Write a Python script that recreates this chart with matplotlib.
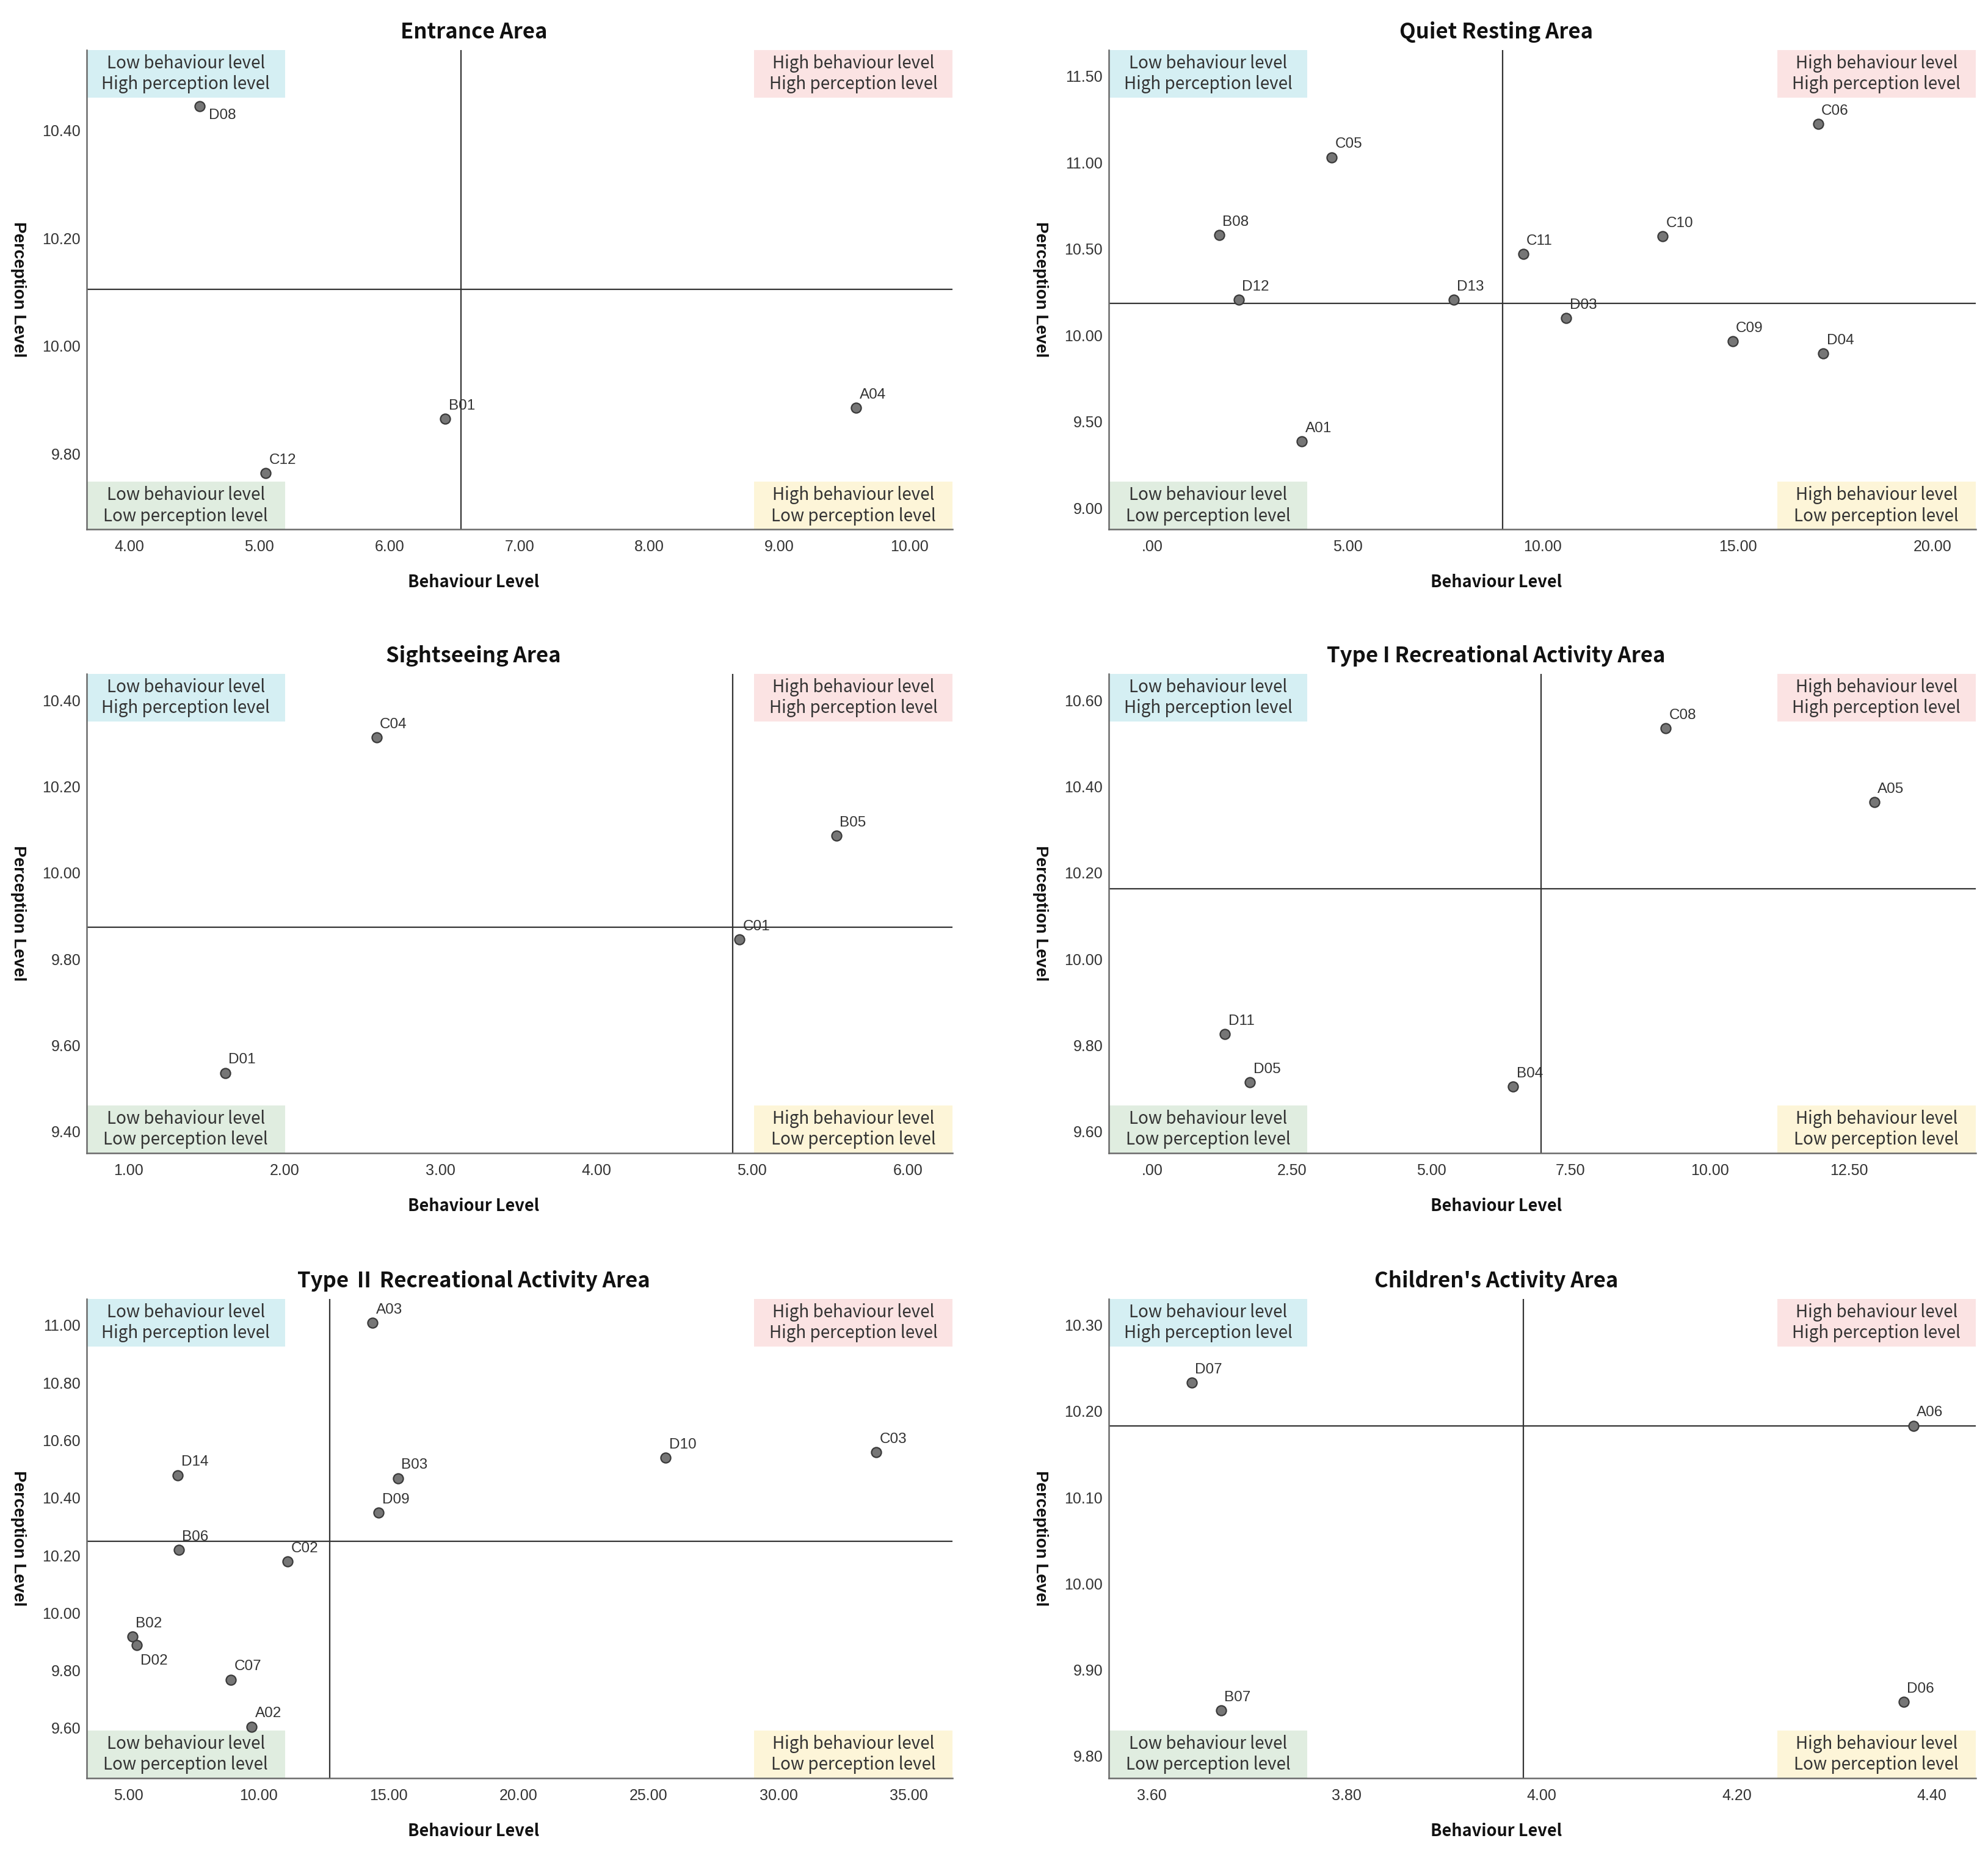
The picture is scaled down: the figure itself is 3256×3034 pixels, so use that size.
import matplotlib
matplotlib.use("Agg")
import matplotlib.pyplot as plt
from matplotlib.patches import Rectangle
from matplotlib.ticker import MultipleLocator, FuncFormatter

# ---------------- data ----------------
entrance_names = ["D08", "B01", "C12", "A04"]
entrance_behaviour = [4.54, 6.43, 5.05, 9.59]
entrance_perception = [10.445, 9.865, 9.764, 9.885]
entrance_mean = (6.55, 10.105)

resting_names = ["C06", "C05", "B08", "C10", "C11", "D12", "D13", "D03", "C09", "D04", "A01"]
resting_behaviour = [17.06, 4.60, 1.71, 13.08, 9.50, 2.21, 7.72, 10.61, 14.87, 17.19, 3.83]
resting_perception = [11.223, 11.03, 10.58, 10.572, 10.47, 10.205, 10.205, 10.10, 9.965, 9.895, 9.387]
resting_mean = (8.97, 10.186)

sight_names = ["C04", "B05", "C01", "D01"]
sight_behaviour = [2.59, 5.54, 4.92, 1.62]
sight_perception = [10.314, 10.086, 9.845, 9.536]
sight_mean = (4.875, 9.874)

type1_names = ["C08", "A05", "D11", "D05", "B04"]
type1_behaviour = [9.21, 12.95, 1.30, 1.75, 6.47]
type1_perception = [10.535, 10.364, 9.826, 9.714, 9.704]
type1_mean = (6.97, 10.163)

type2_names = ["A03", "D14", "B03", "D09", "D10", "C03", "B06", "C02", "B02", "D02", "C07", "A02"]
type2_behaviour = [14.38, 6.90, 15.36, 14.62, 25.66, 33.75, 6.93, 11.11, 5.15, 5.32, 8.93, 9.74]
type2_perception = [11.008, 10.479, 10.468, 10.349, 10.540, 10.558, 10.219, 10.179, 9.917, 9.888, 9.768, 9.605]
type2_mean = (12.74, 10.248)

child_names = ["D07", "A06", "B07", "D06"]
child_behaviour = [3.641, 4.381, 3.671, 4.371]
child_perception = [10.233, 10.183, 9.853, 9.863]
child_mean = (3.981, 10.183)

titles = ["Entrance Area", "Quiet Resting Area", "Sightseeing Area",
          "Type I Recreational Activity Area", "Type \u2161 Recreational Activity Area",
          "Children's Activity Area"]

quadrant_text = {
    "tl": "Low behaviour level\nHigh perception level",
    "tr": "High behaviour level\nHigh perception level",
    "bl": "Low behaviour level\nLow perception level",
    "br": "High behaviour level\nLow perception level",
}
quadrant_color = {"tl": "#d5eff3", "tr": "#fbe3e3", "bl": "#e0ede0", "br": "#fdf5d8"}

# axis ranges and tick steps for each panel
x_limits = [(3.673, 10.33), (-1.12, 21.1), (0.731, 6.285), (-0.785, 14.77), (3.39, 36.69), (3.556, 4.445)]
y_limits = [(9.660, 10.549), (8.878, 11.65), (9.35, 10.461), (9.55, 10.661), (9.426, 11.091), (9.7745, 10.33)]
x_steps = [1.0, 5.0, 1.0, 2.5, 5.0, 0.2]
y_steps = [0.2, 0.5, 0.2, 0.2, 0.2, 0.1]

# labels that sit below-right of their point instead of above-right
label_below = {"D08": (11, -3), "D02": (4, -11)}

panels = [
    (entrance_names, entrance_behaviour, entrance_perception, entrance_mean),
    (resting_names, resting_behaviour, resting_perception, resting_mean),
    (sight_names, sight_behaviour, sight_perception, sight_mean),
    (type1_names, type1_behaviour, type1_perception, type1_mean),
    (type2_names, type2_behaviour, type2_perception, type2_mean),
    (child_names, child_behaviour, child_perception, child_mean),
]

# ---------------- figure ----------------
cjk = ["Noto Sans CJK SC", "DejaVu Sans"]
arial = ["Liberation Sans", "DejaVu Sans"]

fig = plt.figure(figsize=(32.56, 30.34), dpi=100)

col_x = [0.0436, 0.5577]
col_w = [0.4355, 0.4361]
row_y = [0.7142, 0.3774, 0.0399]
row_h = 0.2587


def spss_fmt(v, pos):
    s = f"{v:.2f}"
    if s.startswith("0."):
        s = s[1:]
    if s == "-.00" or s == "-0.00":
        s = ".00"
    return s


box_w, box_h = 0.229, 0.099
center_x = 0.447   # titles and x labels are centred over the whole chart, not the axes

for i, (names, bx, py, mean) in enumerate(panels):
    r, c = divmod(i, 2)
    ax = fig.add_axes([col_x[c], row_y[r], col_w[c], row_h])

    ax.set_xlim(*x_limits[i])
    ax.set_ylim(*y_limits[i])
    ax.xaxis.set_major_locator(MultipleLocator(x_steps[i]))
    ax.yaxis.set_major_locator(MultipleLocator(y_steps[i]))
    ax.xaxis.set_major_formatter(FuncFormatter(spss_fmt))
    ax.yaxis.set_major_formatter(FuncFormatter(spss_fmt))
    ax.tick_params(length=0, labelsize=18, labelcolor="#333333")
    ax.tick_params(axis="x", pad=12)
    ax.tick_params(axis="y", pad=7)
    for lab in ax.get_xticklabels() + ax.get_yticklabels():
        lab.set_family(arial)

    for side in ["top", "right"]:
        ax.spines[side].set_visible(False)
    for side in ["left", "bottom"]:
        ax.spines[side].set_color("#6a6a6a")
        ax.spines[side].set_linewidth(1.8)

    # quadrant boxes
    corners = {"tl": (0, 1 - box_h), "tr": (1 - box_w, 1 - box_h),
               "bl": (0, 0), "br": (1 - box_w, 0)}
    for key, (x0, y0) in corners.items():
        ax.add_patch(Rectangle((x0, y0), box_w, box_h, transform=ax.transAxes,
                               facecolor=quadrant_color[key], edgecolor="none",
                               zorder=1, clip_on=False))
        ax.text(x0 + box_w / 2, y0 + box_h / 2, quadrant_text[key],
                transform=ax.transAxes, ha="center", va="center",
                fontsize=20, family=cjk, color="#333333", linespacing=1.2,
                zorder=2)

    # mean lines
    ax.axvline(mean[0], color="#333333", lw=1.6, zorder=2)
    ax.axhline(mean[1], color="#333333", lw=1.6, zorder=2)

    ax.scatter(bx, py, s=135, facecolor="#767676", edgecolor="#3a3a3a",
               linewidth=1.6, zorder=4)
    for name, x, y in zip(names, bx, py):
        if name in label_below:
            off, va = label_below[name], "top"
        else:
            off, va = (4, 11), "baseline"
        ax.annotate(name, (x, y), xytext=off, textcoords="offset points",
                    ha="left", va=va, fontsize=17.5, family=arial,
                    color="#333333", zorder=5)

    ax.set_title(titles[i], fontsize=25, fontweight="bold", family=cjk,
                 color="#111111", pad=14, x=center_x)
    ax.set_xlabel("Behaviour Level", fontsize=19.5, fontweight="bold",
                  family=cjk, color="#111111")
    ax.xaxis.set_label_coords(center_x, -0.093)
    ax.set_ylabel("Perception Level", fontsize=20, fontweight="bold",
                  family=arial, color="#111111", rotation=270, va="center")
    ax.yaxis.set_label_coords(-0.079, 0.5)

fig.savefig("out.png", dpi=100, facecolor="white")
